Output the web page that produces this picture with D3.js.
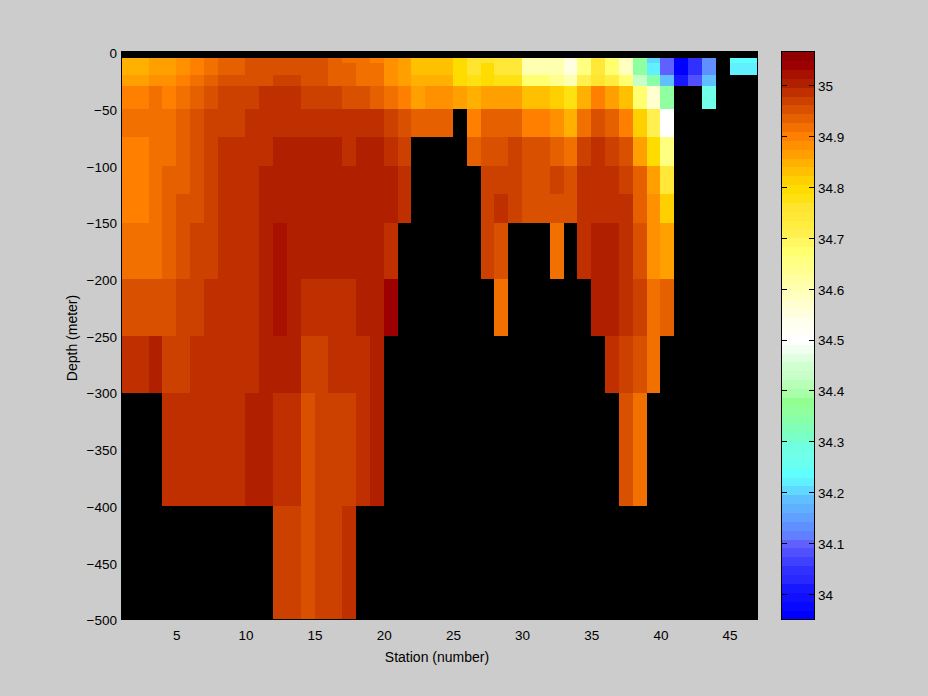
<!DOCTYPE html>
<html><head><meta charset="utf-8">
<script src="https://cdn.jsdelivr.net/npm/d3@7"></script>
<style>
html,body{margin:0;padding:0;background:#ccc;overflow:hidden}
svg{display:block}
text{font-family:"Liberation Sans",Arial,sans-serif;fill:#000}
</style></head><body>
<svg id="c" width="928" height="696"></svg>
<script>
const _ = null;
const depthEdges = [-5,-9.5,-20,-30,-50,-75,-100,-125,-150,-200,-250,-300,-400,-500];
const xTicks = [5,10,15,20,25,30,35,40,45];
const yTicks = [0,-50,-100,-150,-200,-250,-300,-350,-400,-450,-500];
const cTicks = [34,34.1,34.2,34.3,34.4,34.5,34.6,34.7,34.8,34.9,35];
const row05 = [34.847,34.847,34.865,34.865,34.882,34.899,34.917,34.934,34.934,34.952,34.952,34.952,34.952,34.952,34.952,34.934,34.917,34.917,34.899,34.882,34.865,34.830,34.830,34.830,34.795,34.760,34.760,34.743,34.743,34.603,34.603,34.603,34.551,34.655,34.743,34.673,34.586,34.359,34.202,34.098,33.958,34.045,34.133,_,34.237,34.237];
const row10 = [34.847,34.847,34.865,34.865,34.882,34.899,34.917,34.934,34.934,34.952,34.952,34.952,34.952,34.952,34.952,34.934,34.934,34.917,34.917,34.882,34.865,34.830,34.830,34.830,34.795,34.760,34.795,34.743,34.743,34.603,34.603,34.603,34.551,34.655,34.743,34.673,34.586,34.359,34.220,34.098,33.958,34.045,34.133,_,34.220,34.220];
const row20 = [34.865,34.865,34.882,34.882,34.899,34.917,34.934,34.952,34.952,34.952,34.952,34.969,34.969,34.952,34.952,34.934,34.934,34.917,34.917,34.882,34.865,34.847,34.847,34.847,34.795,34.777,34.795,34.777,34.777,34.673,34.673,34.638,34.603,34.708,34.760,34.725,34.673,34.429,34.342,34.185,34.011,34.080,34.185,_,_,_];
const row30 = [34.899,34.899,34.917,34.899,34.917,34.934,34.952,34.969,34.969,34.969,34.987,34.987,34.987,34.969,34.969,34.969,34.952,34.952,34.934,34.917,34.899,34.865,34.882,34.882,34.865,34.847,34.865,34.865,34.865,34.830,34.830,34.812,34.777,34.847,34.899,34.865,34.830,34.673,34.568,34.359,_,_,34.272,_,_,_];
const row50 = [34.917,34.917,34.917,34.917,34.934,34.952,34.969,34.969,34.969,34.987,34.987,34.987,34.987,34.987,34.987,34.987,34.987,34.987,34.987,34.969,34.952,34.934,34.934,34.934,_,34.899,34.934,34.934,34.934,34.899,34.899,34.882,34.847,34.917,34.952,34.934,34.899,34.812,34.708,34.499,_,_,_,_,_,_];
const row75 = [34.899,34.899,34.917,34.917,34.934,34.952,34.969,34.987,34.987,34.987,34.987,35.004,35.004,35.004,35.004,35.004,34.987,35.004,35.004,34.987,34.969,_,_,_,_,34.934,34.952,34.952,34.969,34.952,34.952,34.934,34.917,34.969,34.987,34.969,34.952,34.865,34.795,34.655,_,_,_,_,_,_];
const row100 = [34.899,34.899,34.917,34.934,34.934,34.952,34.969,34.987,34.987,34.987,35.004,35.004,35.004,35.004,35.004,35.004,35.004,35.004,35.004,35.004,34.987,_,_,_,_,_,34.969,34.969,34.969,34.952,34.952,34.969,34.952,34.987,34.987,34.987,34.969,34.934,34.865,34.743,_,_,_,_,_,_];
const row125 = [34.899,34.899,34.917,34.934,34.952,34.952,34.969,34.987,34.987,34.987,35.004,35.004,35.004,35.004,35.004,35.004,35.004,35.004,35.004,35.004,34.987,_,_,_,_,_,34.969,34.987,34.969,34.952,34.952,34.952,34.952,34.987,34.987,34.987,34.987,34.934,34.882,34.812,_,_,_,_,_,_];
const row150 = [34.917,34.917,34.917,34.934,34.952,34.969,34.969,34.987,34.987,34.987,35.004,35.022,35.004,35.004,35.004,35.004,35.004,35.004,35.004,34.987,_,_,_,_,_,_,34.969,34.952,_,_,_,34.917,_,34.987,35.004,35.004,34.987,34.952,34.882,34.865,_,_,_,_,_,_];
const row200 = [34.952,34.952,34.952,34.952,34.969,34.969,34.987,34.987,34.987,34.987,35.004,35.022,35.004,34.987,34.987,34.987,34.987,35.004,35.004,35.039,_,_,_,_,_,_,_,34.917,_,_,_,_,_,_,35.004,35.004,34.987,34.969,34.917,34.934,_,_,_,_,_,_];
const row250 = [34.987,34.987,35.004,34.969,34.969,34.987,34.987,34.987,34.987,34.987,35.004,35.004,35.004,34.969,34.969,34.987,34.987,34.987,35.004,_,_,_,_,_,_,_,_,_,_,_,_,_,_,_,_,34.987,34.969,34.952,34.917,_,_,_,_,_,_,_];
const row300 = [_,_,_,34.987,34.987,34.987,34.987,34.987,34.987,35.004,35.004,34.987,34.987,34.952,34.969,34.969,34.969,34.987,35.004,_,_,_,_,_,_,_,_,_,_,_,_,_,_,_,_,_,34.952,34.917,_,_,_,_,_,_,_,_];
const row400 = [_,_,_,_,_,_,_,_,_,_,_,34.969,34.969,34.952,34.969,34.969,34.987,_,_,_,_,_,_,_,_,_,_,_,_,_,_,_,_,_,_,_,_,_,_,_,_,_,_,_,_,_];
const rows = [row05,row10,row20,row30,row50,row75,row100,row125,row150,row200,row250,row300,row400];
const colormap = ["#900000","#9c0000","#a81000","#b02000","#bf2f00","#cc4000","#d95000","#e66000","#f27000","#ff8000","#ff9000","#ffa000","#ffb000","#ffc000","#ffd000","#ffdc00","#ffe010","#ffe430","#ffe838","#ffee40","#fff050","#fff860","#ffff70","#ffff80","#ffff90","#ffffa0","#ffffb0","#ffffc0","#ffffd0","#ffffe0","#fffff0","#fffff8","#ffffff","#f0fff0","#e0ffe0","#d0ffd0","#c8ffc8","#b8ffb8","#a8ffa8","#90ff90","#90ffa0","#88ffa8","#80ffb8","#78ffc8","#70ffe0","#70ffe8","#68fff0","#60ffff","#60f0ff","#60d8ff","#60c0ff","#60b0ff","#60a0ff","#6090ff","#6080ff","#6060ff","#5050ff","#4040ff","#3030ff","#2828ff","#1818ff","#1010ff","#0808ff","#0000ff"];
const cDomain = [33.95,35.065];

const svg = d3.select("#c");
svg.append("rect").attr("width",928).attr("height",696).attr("fill","#cccccc");
const x = d3.scaleLinear().domain([1,47]).range([120.9,757.3]);
const y = d3.scaleLinear().domain([-500,0]).range([619.55,52.35]);
const c = d3.scaleQuantize().domain(cDomain).range(colormap.slice().reverse());
const cy = d3.scaleLinear().domain(cDomain).range([619.4,52.2]);
const px = Math.round;

// axes background (missing data shows as black)
svg.append("rect").attr("x",px(x(1))).attr("y",px(y(0))-1).attr("width",px(x(47))-px(x(1))+1)
  .attr("height",px(y(-500))-px(y(0))+1).attr("fill","#000").attr("shape-rendering","crispEdges");

// cells
const cells = [];
rows.forEach((r,j)=>r.forEach((v,i)=>{ if(v!==null) cells.push({i:i+1,top:depthEdges[j],bot:depthEdges[j+1],v}); }));
svg.append("g").attr("shape-rendering","crispEdges").selectAll("rect").data(cells).join("rect")
  .attr("x",d=>px(x(d.i))).attr("y",d=>px(y(d.top)))
  .attr("width",d=>px(x(d.i+1))-px(x(d.i))).attr("height",d=>px(y(d.bot))-px(y(d.top)))
  .attr("fill",d=>c(d.v));
// frame lines over the cells
const frameL = px(x(1))+.5, frameB = px(y(-500))-.5;
svg.append("path").attr("d",`M${frameL},${px(y(0))-1}V${frameB+.5}M${frameL},${frameB}H${px(x(47))+1}`)
  .attr("stroke","#000").attr("fill","none").attr("shape-rendering","crispEdges");

function style(g){
  g.selectAll("text").attr("font-size",13.5).attr("fill","#000").attr("transform","translate(0,1)");
  g.selectAll(".domain").attr("stroke","#000");
  g.selectAll("line").attr("stroke","#000");
}
svg.append("g").attr("transform",`translate(0,${px(y(-500))+3})`)
  .call(d3.axisBottom(x).tickValues(xTicks).tickSize(0).tickPadding(6).tickFormat(d3.format("d")))
  .call(style).call(g=>g.select(".domain").remove());
svg.append("g").attr("transform",`translate(${px(x(1))-2},0)`)
  .call(d3.axisLeft(y).tickValues(yTicks).tickSize(0).tickPadding(2).tickFormat(d3.format("d")))
  .call(style).call(g=>g.select(".domain").remove());
svg.append("text").attr("x",437).attr("y",662).attr("text-anchor","middle").attr("font-size",14).text("Station (number)");
svg.append("text").attr("transform","translate(77,338) rotate(-90)").attr("text-anchor","middle").attr("font-size",14).text("Depth (meter)");

// colorbar
const cbL=782, cbR=814;
const steps = d3.range(64);
const stepH = (cDomain[1]-cDomain[0])/64;
svg.append("g").attr("shape-rendering","crispEdges").selectAll("rect").data(steps).join("rect")
  .attr("x",cbL).attr("width",cbR-cbL)
  .attr("y",k=>px(cy(cDomain[0]+(k+1)*stepH))).attr("height",k=>px(cy(cDomain[0]+k*stepH))-px(cy(cDomain[0]+(k+1)*stepH)))
  .attr("fill",k=>colormap[63-k]);
svg.append("rect").attr("x",cbL-.5).attr("y",px(cy(cDomain[1]))-.5).attr("width",cbR-cbL+1)
  .attr("height",px(cy(cDomain[0]))-px(cy(cDomain[1]))+1).attr("fill","none").attr("stroke","#000");
svg.append("g").attr("transform",`translate(${cbR},0)`)
  .call(d3.axisRight(cy).tickValues(cTicks).tickSize(0).tickPadding(4).tickFormat(d=>String(d)))
  .call(style).call(g=>g.select(".domain").remove());
svg.append("g").attr("shape-rendering","crispEdges").selectAll("path").data(cTicks).join("path")
  .attr("stroke","#000").attr("fill","none")
  .attr("d",d=>{const t=px(cy(d))+.5;return `M${cbL},${t}h5M${cbR},${t}h-5`;});
</script></body></html>
